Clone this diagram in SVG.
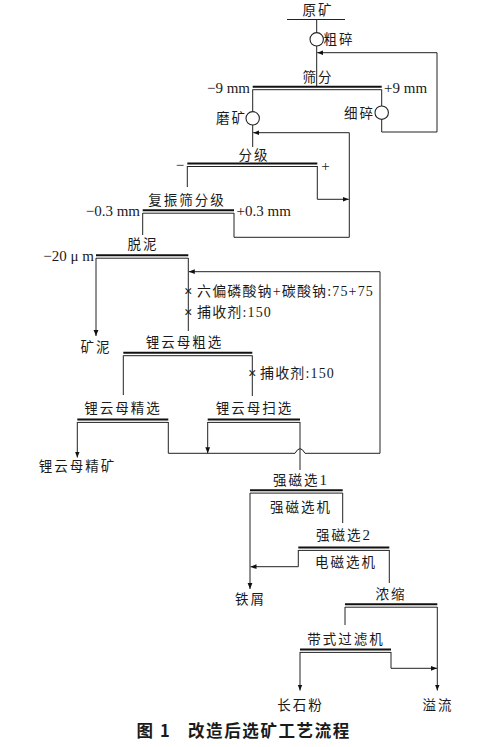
<svg xmlns="http://www.w3.org/2000/svg" width="500" height="747" viewBox="0 0 500 747">
<style>
text{font-family:"Liberation Serif","Noto Sans CJK SC",serif;font-size:13.5px;fill:#1a1a1a}
.c{letter-spacing:2px}
.m{text-anchor:middle}
.e{text-anchor:end}
.n{font-size:15px}
.r{font-size:14px;letter-spacing:1.15px}
.ln{fill:none;stroke:#222;stroke-width:1}
.ar{fill:none;stroke:#222;stroke-width:1;marker-end:url(#ah)}
.st{stroke:#111;stroke-width:2}
.sb{stroke:#222;stroke-width:1}
.cr{fill:#fff;stroke:#222;stroke-width:1.1}
.x{font-size:15px;font-weight:bold;text-anchor:middle}
.cap{font-family:"Noto Sans CJK SC",sans-serif;font-size:16.5px;font-weight:bold;letter-spacing:1.6px}
</style>
<defs>
<marker id="ah" markerWidth="6" markerHeight="6" refX="6" refY="3" orient="auto" markerUnits="userSpaceOnUse"><path d="M0,0.6 L6,3 L0,5.4 z" fill="#111"/></marker>
</defs>
<rect width="500" height="747" fill="#fff"/>

<g id="connectors">
<path class="ln" d="M316.7,19.5 V32.6 M316.7,46 V86"/>
<path class="ar" d="M381.7,119.4 V132 H437 V52.7 H317.2"/>
<path class="ln" d="M252.7,89.5 V111.6 M381.7,89.5 V106"/>
<path class="ln" d="M252.7,125 V147"/>
<path class="ar" d="M234,213 V237.3 H349.3 V132.7 H253.2"/>
<path class="ln" d="M187.3,166 V187"/>
<path class="ar" d="M317.3,166 V199.3 H348.8"/>
<path class="ln" d="M142.7,213 V235"/>
<path class="ar" d="M96,258 V336"/>
<path class="ln" d="M188.3,258 V331"/>
<path class="ar" d="M380,453.3 V271.7 H188.8"/>
<path class="ln" d="M123.3,355.5 V395 M252.3,355.5 V396"/>
<path class="ar" d="M77.3,422 V457.5"/>
<path class="ln" d="M168.3,422 V453.3 H295 Q300,444 305,453.3 H380"/>
<path class="ar" d="M207.7,422 V453.3"/>
<path class="ln" d="M300,422 V470"/>
<path class="ar" d="M250,493 V589"/>
<path class="ln" d="M342.7,493 V523"/>
<path class="ar" d="M298.3,550 V566.7 H250.5"/>
<path class="ln" d="M389.3,550 V583"/>
<path class="ln" d="M345,607 V625"/>
<path class="ar" d="M391,652 V668.3 H437"/>
<path class="ar" d="M300,652 V690.5"/>
<path class="ar" d="M437.3,607 V690.5"/>
</g>

<g id="feed">
<text class="c m" x="318" y="15">原矿</text>
<line class="sb" x1="287" y1="19.5" x2="345" y2="19.5"/>
</g>
<g id="crush1">
<circle class="cr" cx="316.7" cy="39.3" r="6.7"/>
<text class="c" x="323.5" y="44">粗碎</text>
</g>
<g id="screen1">
<text class="c m" x="318" y="82">筛分</text>
<line class="st" x1="252.7" y1="86.8" x2="381.7" y2="86.8"/>
<line class="sb" x1="252.7" y1="89.7" x2="381.7" y2="89.7"/>
<text class="e n" x="250" y="93">−9 mm</text>
<text class="n" x="384" y="93">+9 mm</text>
</g>
<g id="grind">
<circle class="cr" cx="252.7" cy="118.3" r="6.7"/>
<text class="c e" x="247" y="123">磨矿</text>
</g>
<g id="crush2">
<circle class="cr" cx="381.7" cy="112.7" r="6.7"/>
<text class="c e" x="375" y="117.5">细碎</text>
</g>
<g id="classify">
<text class="c m" x="254" y="160">分级</text>
<line class="st" x1="187.3" y1="163.6" x2="317.3" y2="163.6"/>
<line class="sb" x1="187.3" y1="166.5" x2="317.3" y2="166.5"/>
<text class="m n" x="180" y="169.5">−</text>
<text class="m n" x="325.5" y="170.5">+</text>
</g>
<g id="vibscreen">
<text class="c m" x="187" y="205">复振筛分级</text>
<line class="st" x1="142.7" y1="210.3" x2="234" y2="210.3"/>
<line class="sb" x1="142.7" y1="213.2" x2="234" y2="213.2"/>
<text class="e n" x="140" y="215.5">−0.3 mm</text>
<text class="n" x="236.5" y="215.5">+0.3 mm</text>
</g>
<g id="desliming">
<text class="c m" x="143" y="249">脱泥</text>
<line class="st" x1="96" y1="255.3" x2="188.3" y2="255.3"/>
<line class="sb" x1="96" y1="258.2" x2="188.3" y2="258.2"/>
<text class="e n" x="94" y="260.5">−20 μ m</text>
</g>
<g id="slime">
<text class="c m" x="96" y="352">矿泥</text>
</g>
<g id="reagents1">
<text class="x" x="188.3" y="296">×</text>
<text class="r" x="197" y="296">六偏磷酸钠+碳酸钠:75+75</text>
<text class="x" x="188.3" y="317">×</text>
<text class="r" x="197" y="317">捕收剂:150</text>
</g>
<g id="rougher">
<text class="c m" x="184.5" y="347">锂云母粗选</text>
<line class="st" x1="123.3" y1="352.8" x2="252.3" y2="352.8"/>
<line class="sb" x1="123.3" y1="355.7" x2="252.3" y2="355.7"/>
<text class="x" x="252.3" y="377.5">×</text>
<text class="r" x="260" y="377.5">捕收剂:150</text>
</g>
<g id="cleaner">
<text class="c m" x="123" y="413">锂云母精选</text>
<line class="st" x1="77.3" y1="419.5" x2="168.3" y2="419.5"/>
<line class="sb" x1="77.3" y1="422.4" x2="168.3" y2="422.4"/>
</g>
<g id="scavenger">
<text class="c m" x="254.5" y="413">锂云母扫选</text>
<line class="st" x1="207.7" y1="419.5" x2="300" y2="419.5"/>
<line class="sb" x1="207.7" y1="422.4" x2="300" y2="422.4"/>
</g>
<g id="concentrate">
<text class="c m" x="77.5" y="471">锂云母精矿</text>
</g>
<g id="mag1">
<text class="c m" x="301" y="485">强磁选<tspan class="n">1</tspan></text>
<line class="st" x1="250" y1="490.2" x2="342.7" y2="490.2"/>
<line class="sb" x1="250" y1="493.1" x2="342.7" y2="493.1"/>
<text class="c m" x="301" y="512">强磁选机</text>
</g>
<g id="iron">
<text class="c m" x="250.5" y="604">铁屑</text>
</g>
<g id="mag2">
<text class="c m" x="344" y="540">强磁选<tspan class="n">2</tspan></text>
<line class="st" x1="298.3" y1="547.5" x2="389.3" y2="547.5"/>
<line class="sb" x1="298.3" y1="550.4" x2="389.3" y2="550.4"/>
<text class="c m" x="346" y="567">电磁选机</text>
</g>
<g id="thicken">
<text class="c m" x="391" y="598.5">浓缩</text>
<line class="st" x1="345" y1="604.3" x2="437.3" y2="604.3"/>
<line class="sb" x1="345" y1="607.2" x2="437.3" y2="607.2"/>
</g>
<g id="filter">
<text class="c m" x="346" y="643.5">带式过滤机</text>
<line class="st" x1="300" y1="649.5" x2="391" y2="649.5"/>
<line class="sb" x1="300" y1="652.4" x2="391" y2="652.4"/>
</g>
<g id="feldspar">
<text class="c m" x="300.5" y="710">长石粉</text>
</g>
<g id="overflow">
<text class="c m" x="438" y="710">溢流</text>
</g>
<g id="caption">
<text class="cap" x="136.5" y="737">图 1</text>
<text class="cap" x="188" y="737">改造后选矿工艺流程</text>
</g>
</svg>
